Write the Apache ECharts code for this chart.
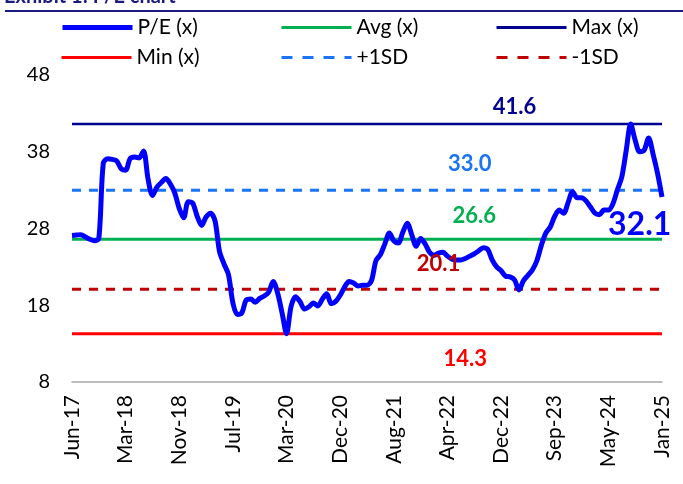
<!DOCTYPE html>
<html>
<head>
<meta charset="utf-8">
<script src="https://cdn.jsdelivr.net/npm/echarts@6/dist/echarts.min.js"></script>
<style>
html,body{margin:0;padding:0;background:#fff;}
#chart{width:683px;height:484px;}
</style>
</head>
<body>
<div id="chart"></div>
<script>
// tick labels on the x axis, one every 12 points
var tickLabels = ["Jun-17","Mar-18","Nov-18","Jul-19","Mar-20","Dec-20","Aug-21","Apr-22","Dec-22","Sep-23","May-24","Jan-25"];
var step = 12;

// P/E (x)
var peValues = [
	27.1,27.15,27.2,26.9,26.6,26.4,26.7,36.5,37.1,37.0,36.8,35.8,
	35.6,37.1,37.3,37.2,38.1,34.5,32.3,33.4,34.0,34.5,33.8,32.6,
	30.6,29.4,31.5,31.3,29.6,28.4,29.5,30.0,29.0,25.0,23.4,22.0,
	18.3,16.8,17.0,18.7,18.8,18.4,18.9,19.2,19.7,21.1,19.6,17.0,
	14.3,17.8,19.1,18.5,17.5,17.8,18.3,17.9,18.8,19.5,18.2,18.5,
	19.3,20.4,21.1,20.9,20.5,20.6,20.6,21.2,23.8,24.6,26.0,27.4,
	26.4,26.1,27.5,28.7,27.2,25.7,26.7,26.0,24.9,24.5,24.8,24.9,
	24.4,24.0,23.9,23.9,24.1,24.4,24.7,25.1,25.5,25.3,23.9,23.0,
	22.5,21.8,21.7,21.3,20.0,21.2,21.9,22.6,23.8,25.8,27.4,28.2,
	29.6,30.4,30.0,31.4,32.8,32.0,32.0,31.6,30.8,30.0,29.8,30.4,
	30.4,31.2,33.0,34.7,38.2,41.6,39.5,38.0,38.2,39.8,37.7,35.2,
	32.1
];

// reference levels
var avgVal = 26.6, maxVal = 41.6, minVal = 14.3, plusSD = 33.0, minusSD = 20.1;

var fontName = "Lato";

var categories = peValues.map(function(v, i){
	return i % step === 0 ? tickLabels[i / step] : String(i);
});
var lastIdx = peValues.length - 1;

function level(v){
	return [[0, v], [lastIdx, v]];
}
function tag(text, idx, v, color, size, dy){
	return {
		symbol:"circle",
		symbolSize:0,
		silent:true,
		data:[{coord:[idx, v]}],
		label:{
			show:true,
			position:"inside",
			formatter:text,
			offset:[0, dy],
			color:color,
			fontSize:size,
			fontWeight:"bold",
			fontFamily:fontName
		}
	};
}
function legendAt(name, left, top, w, dash){
	return {
		data:[name],
		left:left,
		top:top,
		padding:0,
		itemWidth:70,
		itemHeight:14,
		itemGap:6,
		itemStyle:{opacity:0},
		lineStyle:{width:w, type:dash ? [11, 10] : "solid"},
		textStyle:{color:"#000", fontSize:21, fontFamily:fontName}
	};
}

var myChart = echarts.init(document.getElementById("chart"));
var option = {
	animation:false,
	title:{
		text:"Exhibit 1: P/E chart",
		left:4,
		top:-13,
		padding:0,
		textStyle:{color:"#1a1a80", fontSize:20, fontWeight:"bold", fontFamily:fontName}
	},
	graphic:[
		{type:"line", shape:{x1:5, y1:11, x2:683, y2:11}, style:{stroke:"#1a1a80", lineWidth:2}}
	],
	legend:[
		legendAt("P/E (x)", 60, 17, 5, false),
		legendAt("Avg (x)", 280, 17, 3, false),
		legendAt("Max (x)", 495, 17, 3, false),
		legendAt("Min (x)", 60, 47, 3, false),
		legendAt("+1SD", 280, 47, 3, true),
		legendAt("-1SD", 495, 47, 3, true)
	],
	grid:{left:72, right:21, top:75, bottom:102},
	xAxis:{
		type:"category",
		data:categories,
		boundaryGap:false,
		axisLine:{lineStyle:{color:"#a6a6a6", width:1.5}},
		axisTick:{show:false},
		axisLabel:{
			interval:step - 1,
			rotate:90,
			margin:13,
			color:"#000",
			fontSize:21,
			fontFamily:fontName
		}
	},
	yAxis:{
		type:"value",
		min:8,
		max:48,
		interval:10,
		axisLine:{show:false},
		axisTick:{show:false},
		splitLine:{show:false},
		axisLabel:{color:"#000", fontSize:20, fontFamily:fontName, margin:22}
	},
	series:[
		{
			name:"Max (x)", type:"line", data:level(maxVal), showSymbol:false, symbol:"none",
			lineStyle:{color:"#000090", width:2.5}, itemStyle:{color:"#000090"},
			markPoint:tag("41.6", 98.5, maxVal, "#000090", 22, -17)
		},
		{
			name:"+1SD", type:"line", data:level(plusSD), showSymbol:false, symbol:"none",
			lineStyle:{color:"#1a74f5", width:3, type:[9, 8]}, itemStyle:{color:"#1a74f5"},
			markPoint:tag("33.0", 88.5, plusSD, "#1a74f5", 22, -26)
		},
		{
			name:"Avg (x)", type:"line", data:level(avgVal), showSymbol:false, symbol:"none",
			lineStyle:{color:"#00b050", width:3}, itemStyle:{color:"#00b050"},
			markPoint:tag("26.6", 89.8, avgVal, "#00b050", 22, -23)
		},
		{
			name:"-1SD", type:"line", data:level(minusSD), showSymbol:false, symbol:"none",
			lineStyle:{color:"#c00000", width:3, type:[9, 8]}, itemStyle:{color:"#c00000"},
			markPoint:tag("20.1", 81.7, minusSD, "#c00000", 22, -25)
		},
		{
			name:"Min (x)", type:"line", data:level(minVal), showSymbol:false, symbol:"none",
			lineStyle:{color:"#ff0000", width:3}, itemStyle:{color:"#ff0000"},
			markPoint:tag("14.3", 88.2, minVal, "#ff0000", 22, 25)
		},
		{
			name:"P/E (x)", type:"line", data:peValues, showSymbol:false, symbol:"none", smooth:0.3,
			lineStyle:{color:"#0000ff", width:5}, itemStyle:{color:"#0000ff"},
			z:3,
			markPoint:tag("32.1", 127.4, peValues[lastIdx], "#0000ff", 32, 28)
		}
	]
};
myChart.setOption(option);
</script>
</body>
</html>
